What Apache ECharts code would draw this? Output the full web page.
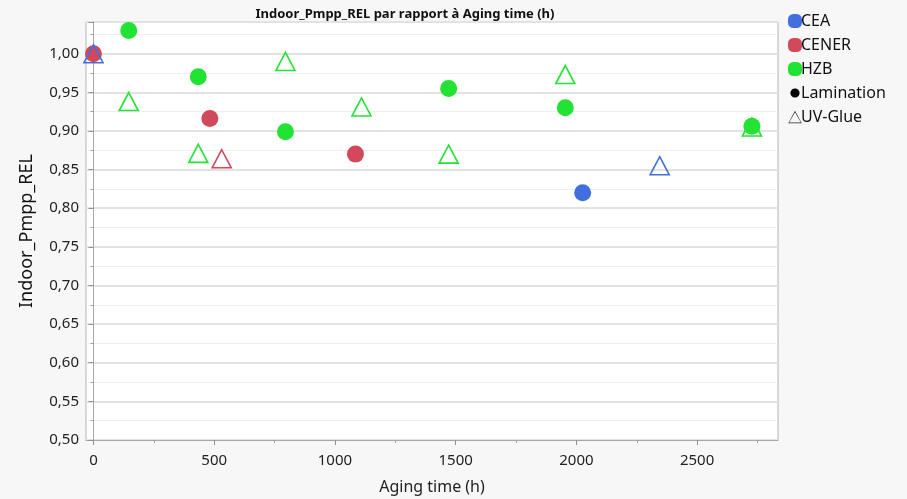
<!DOCTYPE html>
<html>
<head>
<meta charset="utf-8">
<script src="https://cdn.jsdelivr.net/npm/echarts@6/dist/echarts.min.js"></script>
<style>
html,body{margin:0;padding:0;background:#f7f7f7;}
#chart{width:907px;height:499px;}
</style>
</head>
<body>
<div id="chart"></div>
<script>
// ---- Data ----
const titleText = 'Indoor_Pmpp_REL par rapport à Aging time (h)';
const xName = 'Aging time (h)';
const yName = 'Indoor_Pmpp_REL';
const xTicks = [0, 500, 1000, 1500, 2000, 2500];
const xMinorTicks = [250, 750, 1250, 1750, 2250, 2750];

const ceaLamTime = [2026];
const ceaLamVal  = [0.820];
const ceaUvTime  = [0, 2345];
const ceaUvVal   = [1.000, 0.855];
const cenerLamTime = [0, 482, 1085];
const cenerLamVal  = [1.000, 0.916, 0.870];
const cenerUvTime  = [531];
const cenerUvVal   = [0.864];
const hzbLamTime = [146, 434, 795, 1471, 1954, 2727];
const hzbLamVal  = [1.030, 0.970, 0.899, 0.955, 0.930, 0.906];
const hzbUvTime  = [146, 434, 795, 1110, 1471, 1954, 2727];
const hzbUvVal   = [0.938, 0.871, 0.990, 0.931, 0.870, 0.973, 0.905];

const orgNames = ['CEA', 'CENER', 'HZB'];
const processNames = ['Lamination', 'UV-Glue'];

// ---- Styles ----
const COL = {CEA: '#4170DE', CENER: '#D2495B', HZB: '#22E334'};
const FONT = 'Noto Sans';
const zip = (xs, ys) => xs.map((x, i) => [x, ys[i]]);

function circleSeries(name, org, xs, ys) {
  return {
    name: name, type: 'scatter', symbol: 'circle', symbolSize: 17,
    data: zip(xs, ys), silent: true,
    itemStyle: {color: COL[org], opacity: 1}
  };
}
function triSeries(name, org, xs, ys) {
  return {
    name: name, type: 'scatter', symbol: 'triangle', symbolSize: [19, 18],
    data: zip(xs, ys), silent: true,
    itemStyle: {color: 'rgba(255,255,255,0)', borderColor: COL[org], borderWidth: 1.6, opacity: 1}
  };
}

const series = [
  circleSeries('CENER Lamination', 'CENER', cenerLamTime, cenerLamVal),
  triSeries('CEA UV-Glue', 'CEA', ceaUvTime, ceaUvVal),
  triSeries('CENER UV-Glue', 'CENER', cenerUvTime, cenerUvVal),
  triSeries('HZB UV-Glue', 'HZB', hzbUvTime, hzbUvVal),
  circleSeries('HZB Lamination', 'HZB', hzbLamTime, hzbLamVal),
  circleSeries('CEA Lamination', 'CEA', ceaLamTime, ceaLamVal)
];
// legend-only series
orgNames.forEach(o => series.push({name: o, type: 'scatter', data: [], itemStyle: {color: COL[o], opacity: 1}}));
series.push({name: processNames[0], type: 'scatter', data: [], itemStyle: {color: '#000', opacity: 1}});
series.push({name: processNames[1], type: 'scatter', data: [], itemStyle: {color: '#000', opacity: 1}});

const BOX = 'M0,0 M100,100 ';
const SQUIRCLE = 'path://M38,0 L62,0 A38,38 0 0 1 100,38 L100,62 A38,38 0 0 1 62,100 L38,100 A38,38 0 0 1 0,62 L0,38 A38,38 0 0 1 38,0 Z';
const legendData = orgNames.map(o => ({name: o, icon: SQUIRCLE, itemStyle: {color: COL[o], opacity: 1}}))
  .concat([
    {name: processNames[0], icon: 'path://' + BOX + 'M50,17 A33,33 0 1,1 49.9,17 Z', itemStyle: {color: '#000', opacity: 1}},
    {name: processNames[1], icon: 'path://' + BOX + 'M50,6 L98,94 L2,94 Z M50,16 L8,90 L92,90 Z', itemStyle: {color: '#222', opacity: 1}}
  ]);

const chart = echarts.init(document.getElementById('chart'));
chart.setOption({
  backgroundColor: '#f7f7f7',
  animation: false,
  title: {
    text: titleText, left: 400, top: 3, textAlign: 'center',
    textStyle: {fontFamily: FONT, fontSize: 13, fontWeight: 'bold', color: '#111'}
  },
  legend: {
    orient: 'vertical', left: 783, top: 8, itemGap: 8, itemWidth: 14, itemHeight: 14,
    selectedMode: false, data: legendData,
    textStyle: {fontFamily: FONT, fontSize: 16, color: '#111', padding: [0, 0, 0, -6]}
  },
  grid: {
    left: 86, right: 129, top: 22, bottom: 59, show: true, outerBoundsMode: 'none', containLabel: false,
    backgroundColor: '#ffffff', borderColor: '#b4b4b4', borderWidth: 1
  },
  xAxis: [{
    type: 'value', min: -31, max: 2835,
    name: xName, nameLocation: 'middle', nameGap: 39,
    nameTextStyle: {fontFamily: FONT, fontSize: 16, color: '#222'},
    axisLine: {show: true, lineStyle: {color: '#a8a8a8'}},
    axisTick: {show: true, length: 5, customValues: xTicks, lineStyle: {color: '#909090'}},
    axisLabel: {customValues: xTicks, margin: 13, fontFamily: FONT, fontSize: 15, color: '#222',
      formatter: v => String(v)},
    splitLine: {show: false}
  }, {
    type: 'value', min: -31, max: 2835, position: 'bottom',
    axisLine: {show: false},
    axisTick: {show: true, length: 3, customValues: xMinorTicks, lineStyle: {color: '#a0a0a0'}},
    axisLabel: {show: false},
    splitLine: {show: false}
  }],
  yAxis: {
    type: 'value', min: 0.5, max: 1.041, interval: 0.05,
    name: yName, nameLocation: 'middle', nameGap: 50,
    nameTextStyle: {fontFamily: FONT, fontSize: 18, color: '#111'},
    axisLine: {show: true, lineStyle: {color: '#a8a8a8'}},
    axisTick: {show: true, length: 5, lineStyle: {color: '#909090'}},
    minorTick: {show: true, splitNumber: 2, length: 3, lineStyle: {color: '#a0a0a0'}},
    minorSplitLine: {show: true, lineStyle: {color: '#efefef', width: 1}},
    splitLine: {show: true, lineStyle: {color: '#e2e2e2', width: 2}},
    axisLabel: {
      margin: 7, fontFamily: FONT, fontSize: 15, color: '#222', showMaxLabel: false,
      formatter: v => v.toFixed(2).replace('.', ',')
    }
  },
  series: series
});
</script>
</body>
</html>
